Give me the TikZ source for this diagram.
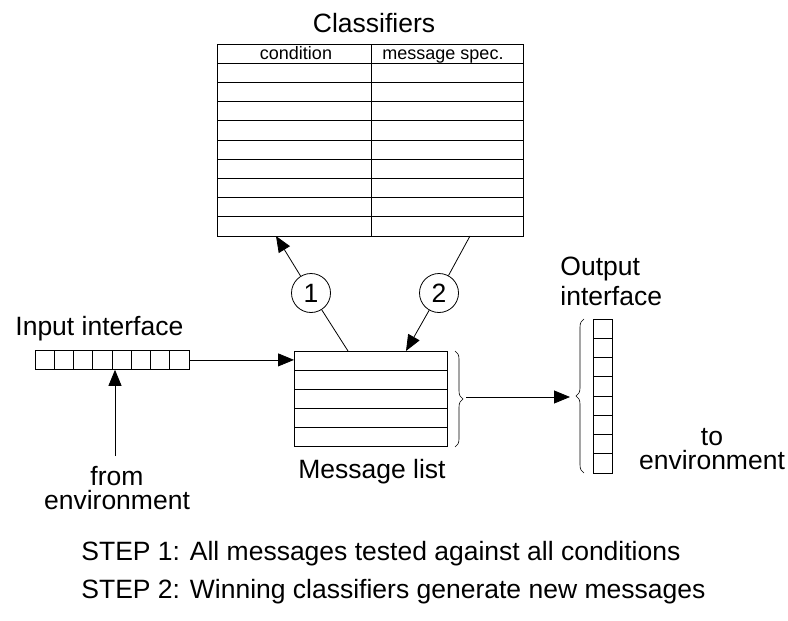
\documentclass[tikz,border=0pt]{standalone}
\usepackage{fontspec}
\setmainfont{Liberation Sans}
\usetikzlibrary{arrows.meta,decorations.pathreplacing}

\begin{document}
\begin{tikzpicture}[x=1pt,y=-1pt,line width=0.8pt,
    lbl/.style={font=\fontsize{26.5}{24}\selectfont,inner sep=0pt},
    hdr/.style={font=\fontsize{18}{20}\selectfont,inner sep=0pt,anchor=base},
    box/.style={draw,inner sep=0pt,anchor=north west},
    flow/.style={-{Triangle[length=16pt,width=13pt]}},
    num/.style={draw,circle,fill=white,inner sep=0pt,minimum size=39pt,font=\fontsize{26.5}{30}\selectfont},
    curly/.style={decorate,decoration={brace,amplitude=8pt},line width=0.6pt}]

    \useasboundingbox (0,0) rectangle (788,621);

    % classifier list
    \node[lbl,anchor=base] (clsftitle) at (374,32) {Classifiers};
    \node[box,minimum width=306pt,minimum height=192pt] (clsf) at (217,44) {};
    \foreach \k in {1,...,9}
        \draw (217,{44+19.2*\k}) -- (523,{44+19.2*\k});
    \draw (371,44) -- (371,236);
    \node[hdr] (condhdr) at (296,59) {condition};
    \node[hdr] (spechdr) at (443,59) {message spec.};

    % input interface
    \node[lbl,anchor=base west] (inlbl) at (15,335) {Input interface};
    \node[box,minimum width=154pt,minimum height=19pt] (inbuf) at (35,350) {};
    \foreach \k in {1,...,7}
        \draw ({35+19.25*\k},350) -- ({35+19.25*\k},369);
    \node[lbl,anchor=north,align=center] (fromenv) at (117,466) {from\\environment};
    \coordinate (envsrc) at (115,456);
    \draw[flow] (envsrc) -- (envsrc |- inbuf.south);

    % message list
    \node[box,minimum width=153pt,minimum height=95pt] (msglist) at (294,351) {};
    \foreach \k in {1,...,4}
        \draw (294,{351+19*\k}) -- (447,{351+19*\k});
    \node[lbl,anchor=base] (msglbl) at (372,478) {Message list};
    \draw[flow] (inbuf.east) -- (inbuf.east -| msglist.west);

    % output interface
    \draw[curly] (455,351) -- (455,447);
    \node[box,minimum width=19pt,minimum height=154pt] (outbuf) at (593,319) {};
    \foreach \k in {1,...,7}
        \draw (593,{319+19.25*\k}) -- (612,{319+19.25*\k});
    \draw[curly] (584,473) -- (584,319);
    \coordinate (brtip) at (466,397);
    \coordinate (bltip) at (570,397);
    \draw[flow] (brtip) -- (bltip);
    \node[lbl,anchor=north west,align=left] (outlbl) at (560,257) {Output\\[4pt]interface};
    \node[lbl,anchor=north,align=center] (toenv) at (712,428) {to\\environment};

    % steps 1 and 2
    \node[num] (stepa) at (311,293) {1};
    \node[num] (stepb) at (439,293) {2};
    \coordinate (srca) at (348,351);
    \coordinate (tipa) at (276,236);
    \coordinate (srcb) at (470,236);
    \coordinate (tipb) at (406,351);
    \draw (srca) -- (stepa);
    \draw[flow] (stepa) -- (tipa);
    \draw (srcb) -- (stepb);
    \draw[flow] (stepb) -- (tipb);

    \node[lbl,anchor=base west] (stepatxt) at (81,560) {STEP 1: All messages tested against all conditions};
    \node[lbl,anchor=base west] (stepbtxt) at (81,598) {STEP 2: Winning classifiers generate new messages};

\end{tikzpicture}
\end{document}
